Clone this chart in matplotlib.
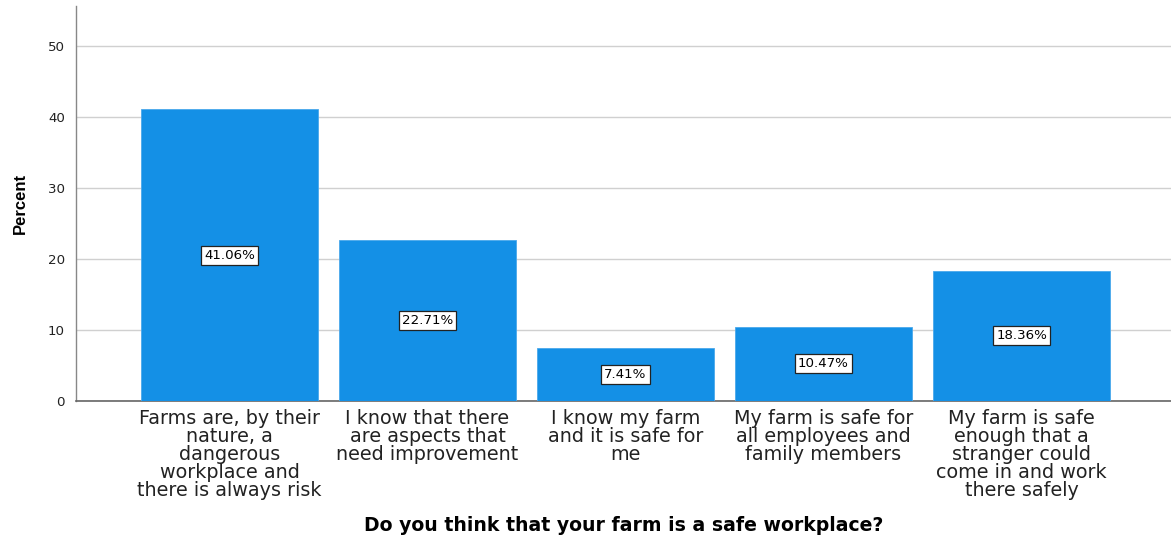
import matplotlib
matplotlib.use("Agg")
import matplotlib.pyplot as plt

categories = [
    "Farms are, by their\nnature, a\ndangerous\nworkplace and\nthere is always risk",
    "I know that there\nare aspects that\nneed improvement",
    "I know my farm\nand it is safe for\nme",
    "My farm is safe for\nall employees and\nfamily members",
    "My farm is safe\nenough that a\nstranger could\ncome in and work\nthere safely",
]
percent = [41.06, 22.71, 7.41, 10.47, 18.36]
yticks = [0, 10, 20, 30, 40, 50]

plt.rcParams["font.family"] = ["DejaVu Sans"]

fig = plt.figure(figsize=(11.71, 5.39), dpi=100)
ax = fig.add_axes([0.0649, 0.256, 0.9351, 0.733])

x = list(range(len(categories)))
ax.bar(x, percent, width=0.894, color="#1490E6", edgecolor="#4AA8EC",
       linewidth=0.6, zorder=3)

for xi, v in zip(x, percent):
    ax.text(xi, v / 2, f"{v:.2f}%", ha="center", va="center", fontsize=9.6,
            zorder=4,
            bbox=dict(boxstyle="square,pad=0.22", facecolor="white",
                      edgecolor="#222222", linewidth=0.9))

ax.set_xlim(-0.775, 4.755)
ax.set_ylim(0, 55.6)
ax.set_yticks(yticks)
ax.set_yticklabels([str(t) for t in yticks], fontsize=9.6)
ax.set_xticks(x)
ax.set_xticklabels(categories, fontsize=13.8, linespacing=0.92)
ax.tick_params(axis="both", length=0, colors="#222222")
ax.tick_params(axis="y", pad=8)
ax.tick_params(axis="x", pad=6)

ax.yaxis.grid(True, color="#D0D0D0", linewidth=1.0, zorder=0)
ax.set_axisbelow(True)

for s in ("top", "right"):
    ax.spines[s].set_visible(False)
ax.spines["left"].set_color("#888888")
ax.spines["bottom"].set_color("#666666")
ax.spines["left"].set_linewidth(1.0)
ax.spines["bottom"].set_linewidth(1.2)

ax.set_ylabel("Percent", fontsize=12, fontweight="bold", labelpad=14,
              family=["Liberation Sans Narrow", "Liberation Sans", "DejaVu Sans"])
ax.set_xlabel("Do you think that your farm is a safe workplace?", fontsize=13.6,
              fontweight="bold", labelpad=12)

fig.savefig("out.png", dpi=100)
